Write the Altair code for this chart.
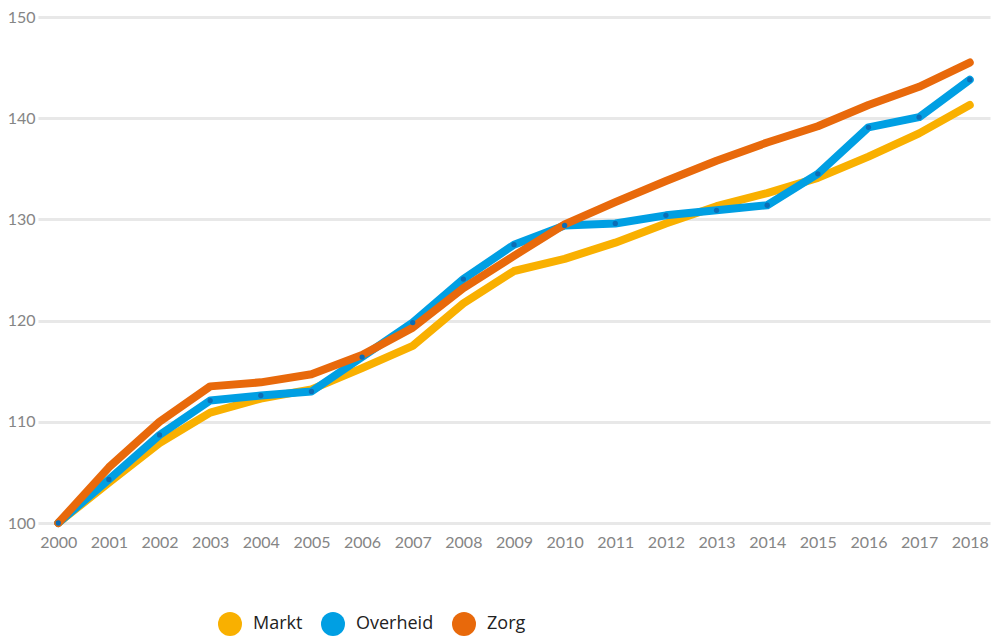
import altair as alt
import pandas as pd

years = list(range(2000, 2019))
markt = [100, 104.0, 107.9, 110.9, 112.3, 113.2, 115.3, 117.5, 121.7, 124.9, 126.1,
         127.7, 129.6, 131.3, 132.6, 134.1, 136.2, 138.5, 141.3]
overheid = [100, 104.3, 108.7, 112.1, 112.6, 113.0, 116.4, 119.8, 124.1, 127.5, 129.4,
            129.6, 130.4, 130.9, 131.4, 134.5, 139.1, 140.1, 143.8]
zorg = [100, 105.5, 110.0, 113.5, 113.9, 114.7, 116.6, 119.3, 123.2, 126.4, 129.5,
        131.7, 133.8, 135.8, 137.6, 139.2, 141.3, 143.1, 145.5]

series = ["Markt", "Overheid", "Zorg"]
colors = ["#f9b000", "#009fe3", "#e8690b"]

rows = []
for name, vals in zip(series, [markt, overheid, zorg]):
    for y, v in zip(years, vals):
        rows.append({"jaar": y, "waarde": v, "sector": name})
df = pd.DataFrame(rows)

x = alt.X("jaar:Q",
          scale=alt.Scale(domain=[1999.6, 2018.4], nice=False, zero=False),
          axis=alt.Axis(values=years, format="d", title=None, grid=False, ticks=False,
                        domain=False, labelPadding=11, labelFontSize=16,
                        labelColor="#858585", labelFont="Lato"))
y = alt.Y("waarde:Q",
          scale=alt.Scale(domain=[100, 150], nice=False, zero=False),
          axis=alt.Axis(values=[100, 110, 120, 130, 140, 150], title=None, ticks=False,
                        domain=False, labelPadding=3, labelFontSize=16,
                        labelColor="#858585", labelFont="Lato",
                        gridColor="#e8e8e8", gridWidth=3))

color = alt.Color("sector:N",
                  scale=alt.Scale(domain=series, range=colors),
                  legend=alt.Legend(title=None, orient="none", direction="horizontal",
                                    legendX=180, legendY=595, symbolType="circle",
                                    symbolSize=576, symbolStrokeWidth=0,
                                    symbolOpacity=1, labelFontSize=18,
                                    labelFont="Open Sans", labelColor="#222222",
                                    columnPadding=18, labelOffset=11))

legend_dots = alt.Chart(df).mark_circle(size=0, opacity=0).encode(
    x="jaar:Q", y="waarde:Q", color=color,
)

lines = alt.Chart(df).mark_line(strokeWidth=8, strokeCap="round", strokeJoin="round").encode(
    x=x, y=y, color=color,
    order=alt.Order("jaar:Q"),
)

pts = alt.Chart(df[df["sector"] == "Overheid"]).mark_circle(size=28, color="#0b6db6", opacity=1).encode(
    x="jaar:Q", y="waarde:Q"
)

chart = alt.layer(lines, legend_dots, pts).properties(
    width=952, height=506,
    autosize=alt.AutoSizeParams(type="none"),
    padding={"left": 30, "top": 9, "right": 8, "bottom": 115},
).configure_view(stroke=None)

chart.save("out.html", embed_options={"renderer": "svg", "actions": False})
